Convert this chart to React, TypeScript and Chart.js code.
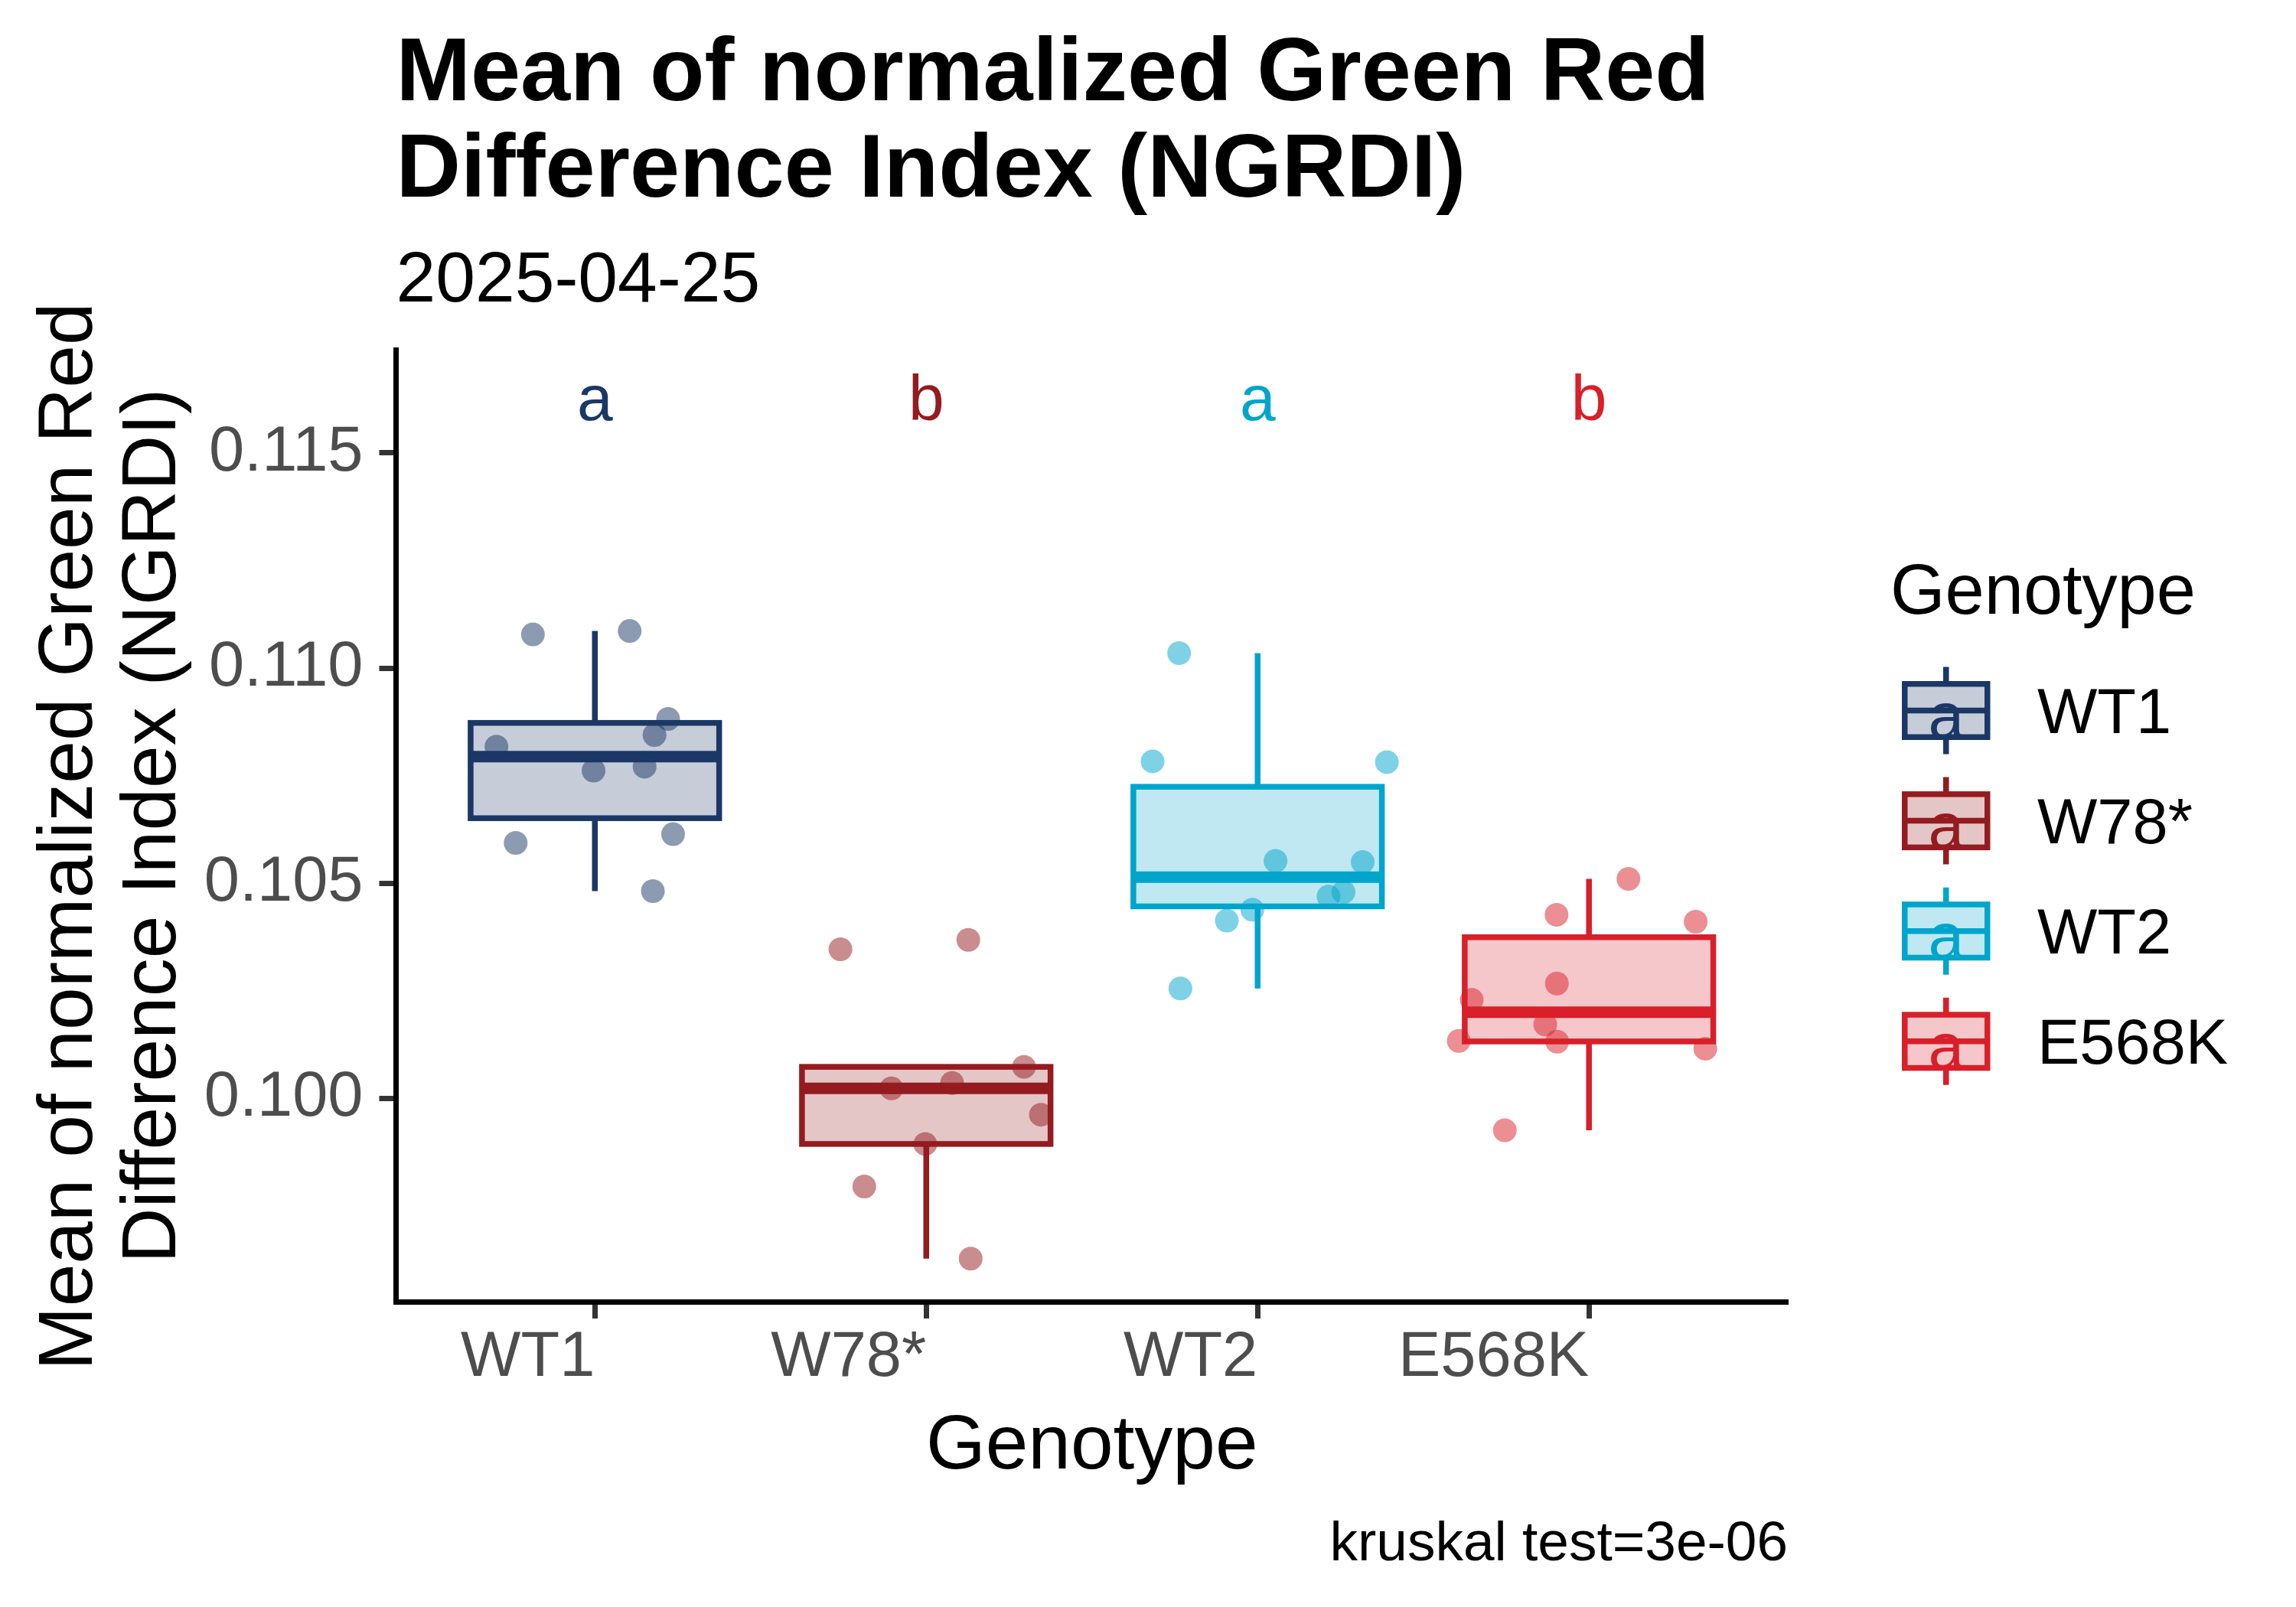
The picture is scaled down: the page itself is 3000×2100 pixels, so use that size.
import { useEffect, useRef } from 'react'
import { Chart, registerables } from 'chart.js'

Chart.register(...registerables)

const genotypes = ['WT1', 'W78*', 'WT2', 'E568K']
const colors = ['#1B3766', '#941B1F', '#00A5CC', '#D81F2A']
const groupLetters = ['a', 'b', 'a', 'b']

// NGRDI means per plant
const wt1Values = [0.110782, 0.110862, 0.108821, 0.108175, 0.108447, 0.107619, 0.10771, 0.105941, 0.106145, 0.104819]
const w78Values = [0.103469, 0.103685, 0.100737, 0.100238, 0.100363, 0.099626, 0.098946, 0.097959, 0.096281]
const wt2Values = [0.110347, 0.107835, 0.107817, 0.105522, 0.105495, 0.104697, 0.104797, 0.104388, 0.104133, 0.102557]
const e568kValues = [0.105104, 0.10427, 0.104107, 0.102674, 0.102293, 0.101721, 0.10134, 0.101323, 0.101159, 0.099264]

// horizontal jitter, in category units
const wt1Jitter = [-0.187, 0.105, 0.221, -0.297, 0.18, -0.004, 0.15, -0.239, 0.236, 0.175]
const w78Jitter = [-0.259, 0.127, 0.295, -0.105, 0.078, 0.346, -0.003, -0.187, 0.134]
const wt2Jitter = [-0.237, -0.317, 0.39, 0.054, 0.317, 0.214, 0.259, -0.016, -0.093, -0.233]
const e568kJitter = [0.119, -0.098, 0.322, -0.097, -0.354, -0.132, -0.393, -0.096, 0.351, -0.254]

const groupValues = [wt1Values, w78Values, wt2Values, e568kValues]
const groupJitter = [wt1Jitter, w78Jitter, wt2Jitter, e568kJitter]

const yTicks = [0.1, 0.105, 0.11, 0.115]
const yMin = 0.095282
const yMax = 0.11739
const letterY = 0.116385

const FONT = '"Liberation Sans", Arial, Helvetica, sans-serif'

function rgba(hex: string, a: number) {
  const n = parseInt(hex.slice(1), 16)
  return `rgba(${(n >> 16) & 255}, ${(n >> 8) & 255}, ${n & 255}, ${a})`
}

function quantile(sorted: number[], p: number) {
  const h = (sorted.length - 1) * p
  const lo = Math.floor(h)
  const hi = Math.min(lo + 1, sorted.length - 1)
  return sorted[lo] + (h - lo) * (sorted[hi] - sorted[lo])
}

function boxStats(values: number[]) {
  const s = [...values].sort((a, b) => a - b)
  const q1 = quantile(s, 0.25)
  const med = quantile(s, 0.5)
  const q3 = quantile(s, 0.75)
  const iqr = q3 - q1
  const lo = s.find(v => v >= q1 - 1.5 * iqr) as number
  const hi = [...s].reverse().find(v => v <= q3 + 1.5 * iqr) as number
  return { q1, med, q3, lo, hi }
}

function drawBox(
  ctx: CanvasRenderingContext2D,
  color: string,
  cx: number,
  left: number,
  right: number,
  top: number,
  bottom: number,
  mid: number,
  whiskTop: number,
  whiskBottom: number,
  lineW: number,
  medianW: number
) {
  ctx.strokeStyle = color
  ctx.lineWidth = lineW
  ctx.lineCap = 'butt'
  ctx.beginPath()
  ctx.moveTo(cx, top)
  ctx.lineTo(cx, whiskTop)
  ctx.moveTo(cx, bottom)
  ctx.lineTo(cx, whiskBottom)
  ctx.stroke()
  ctx.fillStyle = rgba(color, 0.25)
  ctx.fillRect(left, top, right - left, bottom - top)
  ctx.strokeRect(left, top, right - left, bottom - top)
  ctx.lineWidth = medianW
  ctx.beginPath()
  ctx.moveTo(left, mid)
  ctx.lineTo(right, mid)
  ctx.stroke()
}

const boxPlugin = {
  id: 'boxAndLabels',
  beforeDatasetsDraw(chart: Chart) {
    const { ctx } = chart
    const x = chart.scales.x
    const y = chart.scales.y
    ctx.save()
    genotypes.forEach((_, i) => {
      const st = boxStats(groupValues[i])
      drawBox(
        ctx,
        colors[i],
        x.getPixelForValue(i),
        x.getPixelForValue(i - 0.375),
        x.getPixelForValue(i + 0.375),
        y.getPixelForValue(st.q3),
        y.getPixelForValue(st.q1),
        y.getPixelForValue(st.med),
        y.getPixelForValue(st.hi),
        y.getPixelForValue(st.lo),
        7.5,
        15
      )
    })
    ctx.restore()
  },
  afterDraw(chart: Chart) {
    const { ctx, chartArea } = chart
    const x = chart.scales.x
    const y = chart.scales.y
    ctx.save()

    // significance letters
    ctx.textAlign = 'center'
    ctx.textBaseline = 'alphabetic'
    ctx.font = `84px ${FONT}`
    groupLetters.forEach((l, i) => {
      ctx.fillStyle = colors[i]
      ctx.fillText(l, x.getPixelForValue(i), y.getPixelForValue(letterY) + 35)
    })

    // title and subtitle
    ctx.fillStyle = '#000000'
    ctx.textAlign = 'left'
    ctx.font = `bold 117px ${FONT}`
    ctx.fillText('Mean of normalized Green Red', chartArea.left, 131)
    ctx.fillText('Difference Index (NGRDI)', chartArea.left, 257)
    ctx.font = `93px ${FONT}`
    ctx.fillText('2025-04-25', chartArea.left, 394)

    // axis titles
    ctx.font = `100px ${FONT}`
    ctx.textAlign = 'center'
    ctx.fillText('Genotype', (chartArea.left + chartArea.right) / 2, 1919)
    const cy = (chartArea.top + chartArea.bottom) / 2
    const yTitle = ['Mean of normalized Green Red ', 'Difference Index (NGRDI)']
    const yBase = [119.5, 228.5]
    yTitle.forEach((t, k) => {
      ctx.save()
      ctx.translate(yBase[k], cy)
      ctx.rotate(-Math.PI / 2)
      ctx.fillText(t, 0, 0)
      ctx.restore()
    })

    // caption
    ctx.font = `73px ${FONT}`
    ctx.textAlign = 'right'
    ctx.fillText('kruskal test=3e-06', chartArea.right, 2039)

    // legend
    ctx.textAlign = 'left'
    ctx.font = `92px ${FONT}`
    ctx.fillText('Genotype', 2470, 802)
    genotypes.forEach((g, i) => {
      const kcy = 928.5 + i * 144.1
      const kcx = 2542.75
      drawBox(ctx, colors[i], kcx, kcx - 54, kcx + 54, kcy - 34.75, kcy + 34.75, kcy, kcy - 57, kcy + 57, 7.5, 7.5)
      ctx.fillStyle = colors[i]
      ctx.textAlign = 'center'
      ctx.font = `84px ${FONT}`
      ctx.fillText(groupLetters[0], kcx, kcy + 35)
      ctx.fillStyle = '#000000'
      ctx.textAlign = 'left'
      ctx.font = `83px ${FONT}`
      ctx.fillText(g, 2662, kcy + 29.5)
    })

    ctx.restore()
  },
}

export default function App() {
  const chartRef = useRef<HTMLCanvasElement>(null)
  const chartInstance = useRef<Chart | null>(null)

  useEffect(() => {
    document.body.style.margin = '0'
    if (!chartRef.current) return
    if (chartInstance.current) chartInstance.current.destroy()

    const ctx = chartRef.current.getContext('2d')
    if (!ctx) return

    const axisGrid = {
      drawOnChartArea: false,
      drawTicks: true,
      tickLength: 22,
      tickWidth: 7,
      tickColor: '#333333',
    }
    const axisBorder = { display: true, color: '#000000', width: 7 }

    chartInstance.current = new Chart(ctx, {
      type: 'scatter',
      data: {
        datasets: genotypes.map((g, i) => ({
          label: g,
          data: groupValues[i].map((v, j) => ({ x: i + groupJitter[i][j], y: v })),
          backgroundColor: rgba(colors[i], 0.5),
          borderWidth: 0,
          pointRadius: 15.5,
          pointHoverRadius: 15.5,
        })),
      },
      options: {
        responsive: false,
        animation: false,
        devicePixelRatio: 1,
        events: [],
        layout: { padding: { top: 457.4, right: 664, bottom: 0, left: 0 } },
        plugins: {
          legend: { display: false },
          tooltip: { enabled: false },
        },
        scales: {
          x: {
            type: 'linear',
            min: -0.6,
            max: 3.6,
            afterBuildTicks: scale => {
              scale.ticks = genotypes.map((_, i) => ({ value: i }))
            },
            afterFit: scale => {
              scale.height = 399
            },
            grid: axisGrid,
            border: axisBorder,
            ticks: {
              align: 'end',
              padding: 2,
              maxRotation: 0,
              minRotation: 0,
              autoSkip: false,
              color: '#4D4D4D',
              font: { family: FONT, size: 83 },
              callback: value => genotypes[Number(value)] ?? '',
            },
          },
          y: {
            type: 'linear',
            min: yMin,
            max: yMax,
            afterBuildTicks: scale => {
              scale.ticks = yTicks.map(v => ({ value: v }))
            },
            afterFit: scale => {
              scale.width = 517.5
            },
            grid: axisGrid,
            border: axisBorder,
            ticks: {
              padding: 21,
              color: '#4D4D4D',
              font: { family: FONT, size: 83 },
              callback: value => Number(value).toFixed(3),
            },
          },
        },
      },
      plugins: [boxPlugin],
    })

    return () => {
      if (chartInstance.current) {
        chartInstance.current.destroy()
        chartInstance.current = null
      }
    }
  }, [])

  return (
    <div style={{ width: 3000, height: 2100, background: '#ffffff' }}>
      <canvas ref={chartRef} width={3000} height={2100} style={{ display: 'block' }}></canvas>
    </div>
  )
}
